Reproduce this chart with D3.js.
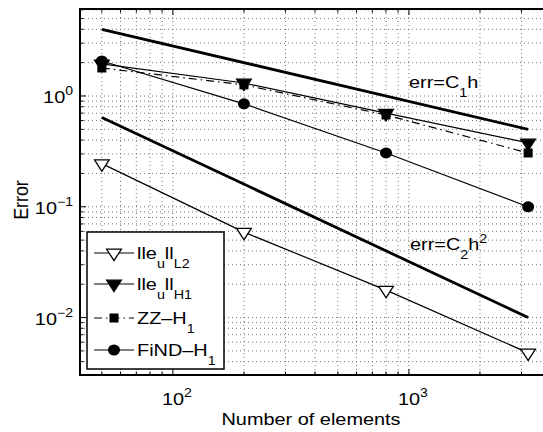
<!DOCTYPE html>
<html><head><meta charset="utf-8">
<script src="https://cdn.jsdelivr.net/npm/d3@7"></script>
<style>body{margin:0;background:#fff}svg{display:block;font-family:"Liberation Sans",Arial,sans-serif}</style>
</head><body><svg id="c" width="543" height="432"></svg>
<script>
const elements = [50, 200, 800, 3200];
const errL2   = [0.245, 0.059, 0.0177, 0.0048];
const errH1   = [1.95, 1.31, 0.70, 0.377];
const zzH1    = [1.79, 1.26, 0.674, 0.306];
const findH1  = [2.07, 0.85, 0.306, 0.10];
const refC1   = [4.0, 0.5];
const refC2   = [0.64, 0.01];
const refX    = [50, 3200];
const xTickExp = [2, 3];
const yTickExp = [0, -1, -2];

const SX = 1.17; // horizontal stretch of the reference text
const svg = d3.select("#c");
const L = 80, R = 551, T = 9, B = 375;
const x = d3.scaleLog().domain([40.4, 4000]).range([L, R]);
const y = d3.scaleLog().domain([0.00303, 6.1]).range([B, T]);

svg.append("defs").append("clipPath").attr("id","clip")
  .append("rect").attr("x",L).attr("y",T).attr("width",R-L).attr("height",B-T);

const g = svg.append("g");
const xt = x.ticks(), yt = y.ticks();
g.selectAll(".gx").data(xt).enter().append("line")
  .attr("x1",d=>x(d)).attr("x2",d=>x(d)).attr("y1",T).attr("y2",B)
  .attr("stroke","#666").attr("stroke-width",0.9).attr("stroke-dasharray","1,3");
g.selectAll(".gy").data(yt).enter().append("line")
  .attr("y1",d=>y(d)).attr("y2",d=>y(d)).attr("x1",L).attr("x2",R)
  .attr("stroke","#666").attr("stroke-width",0.9).attr("stroke-dasharray","1,3");

const isMajor = v => Math.abs(Math.log10(v) - Math.round(Math.log10(v))) < 1e-6;
xt.forEach(v=>{
  const len = isMajor(v)?6:3.5;
  g.append("line").attr("x1",x(v)).attr("x2",x(v)).attr("y1",B).attr("y2",B-len).attr("stroke","#000");
  g.append("line").attr("x1",x(v)).attr("x2",x(v)).attr("y1",T).attr("y2",T+len).attr("stroke","#000");
});
yt.forEach(v=>{
  const len = isMajor(v)?6:3.5;
  g.append("line").attr("y1",y(v)).attr("y2",y(v)).attr("x1",L).attr("x2",L+len).attr("stroke","#000");
  g.append("line").attr("y1",y(v)).attr("y2",y(v)).attr("x1",R).attr("x2",R-len).attr("stroke","#000");
});

g.append("rect").attr("x",L).attr("y",T).attr("width",R-L).attr("height",B-T)
  .attr("fill","none").attr("stroke","#000").attr("stroke-width",2);

const plot = svg.append("g").attr("clip-path","url(#clip)");
const line = d3.line().x(d=>x(d[0])).y(d=>y(d[1]));
const zip = (xs,ys)=>xs.map((v,i)=>[v,ys[i]]);

plot.append("path").attr("d",line(zip(refX,refC1))).attr("stroke","#000").attr("stroke-width",2.8).attr("fill","none");
plot.append("path").attr("d",line(zip(refX,refC2))).attr("stroke","#000").attr("stroke-width",2.8).attr("fill","none");

const tri = d3.symbol().type(d3.symbolTriangle).size(75)();
function marker(sel, kind, cx, cy){
  if(kind==="tri"||kind==="triOpen"){
    sel.append("path").attr("d",tri).attr("transform",`translate(${cx},${cy}) rotate(180) scale(1.12,1)`)
      .attr("fill",kind==="tri"?"#000":"#fff").attr("stroke","#000").attr("stroke-width",1.2);
  } else if(kind==="sq"){
    sel.append("rect").attr("x",cx-4.5).attr("y",cy-4.5).attr("width",9).attr("height",9).attr("fill","#000");
  } else {
    sel.append("ellipse").attr("cx",cx).attr("cy",cy).attr("rx",6).attr("ry",5.5).attr("fill","#000");
  }
}
const series = [
  {vals: errL2, kind:"triOpen", dash:null},
  {vals: zzH1, kind:"sq", dash:"8,4,1.5,4"},
  {vals: errH1, kind:"tri", dash:null},
  {vals: findH1, kind:"circ", dash:null}
];
series.forEach(s=>{
  plot.append("path").attr("d",line(zip(elements,s.vals))).attr("stroke","#000")
    .attr("stroke-width",1.2).attr("fill","none").attr("stroke-dasharray",s.dash);
});
series.forEach(s=>{
  elements.forEach((e,i)=>marker(plot,s.kind,x(e),y(s.vals[i])));
});

// stretched text helper
function stext(sel, px, py, anchor, size, rot){
  const gg = sel.append("g").attr("transform",`translate(${px},${py})`+(rot?` rotate(${rot})`:"")+` scale(${rot?1:SX},${rot?SX:1})`);
  return gg.append("text").attr("x",0).attr("y",0).attr("text-anchor",anchor).attr("font-size",size).attr("fill","#000");
}
function pow10(exp, px, py, anchor){
  const t = stext(svg, px, py, anchor, 17);
  t.append("tspan").text("10");
  t.append("tspan").attr("dy",-8).attr("font-size",12).text(exp<0?"\u2212"+(-exp):String(exp));
}
yTickExp.forEach(e=>pow10(e,73,y(Math.pow(10,e))+7,"end"));
xTickExp.forEach(e=>pow10(e,x(Math.pow(10,e))+4,405,"middle"));

stext(svg,311,425,"middle",17).text("Number of elements");
const ey = svg.append("g").attr("transform","translate(28,200) rotate(-90) scale(1.05,1)");
ey.append("text").attr("text-anchor","middle").attr("font-size",17).attr("transform","scale(1,1.17)").text("Error");

function rich(sel, parts, px, py, size){
  const t = stext(sel, px, py, "start", size);
  let cur = 0;
  parts.forEach(p=>{
    const off = p.s==="sub"?9:(p.s==="sup"?-7:0);
    t.append("tspan").attr("dy",off-cur).attr("font-size",p.s?size*0.72:size).text(p.t);
    cur = off;
  });
  return t;
}
rich(svg,[{t:"err=C"},{t:"1",s:"sub"},{t:"h"}],409,88,17);
rich(svg,[{t:"err=C"},{t:"2",s:"sub"},{t:"h"},{t:"2",s:"sup"}],410,250,17);

const lg = svg.append("g");
lg.append("rect").attr("x",87).attr("y",232).attr("width",137).attr("height",137)
  .attr("fill","#fff").attr("stroke","#000").attr("stroke-width",1.5);
const legRows = [
  {kind:"triOpen", dash:null, parts:[{t:"lle"},{t:"u",s:"sub"},{t:"ll"},{t:"L2",s:"sub"}], y:253},
  {kind:"tri", dash:null, parts:[{t:"lle"},{t:"u",s:"sub"},{t:"ll"},{t:"H1",s:"sub"}], y:284},
  {kind:"sq", dash:"8,4,1.5,4", parts:[{t:"ZZ\u2013H"},{t:"1",s:"sub"}], y:318},
  {kind:"circ", dash:null, parts:[{t:"FiND\u2013H"},{t:"1",s:"sub"}], y:350}
];
legRows.forEach(r=>{
  lg.append("line").attr("x1",94).attr("x2",134).attr("y1",r.y).attr("y2",r.y)
    .attr("stroke","#000").attr("stroke-width",1.1).attr("stroke-dasharray",r.dash);
  marker(lg, r.kind, 114, r.y);
  rich(lg, r.parts, 137, r.y+6, 17);
});
</script></body></html>
